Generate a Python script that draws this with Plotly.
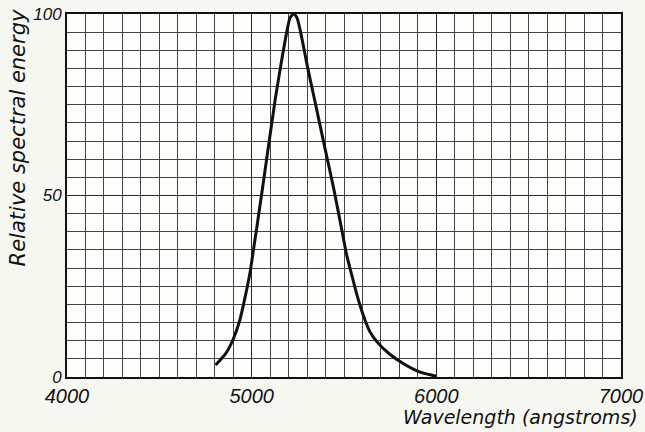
import plotly.graph_objects as go

wavelength = [4805, 4860, 4900, 4935, 4958, 4976, 4992, 5060, 5127, 5160, 5190, 5208, 5227,
              5245, 5265, 5303, 5341, 5400, 5446, 5490, 5515, 5540, 5565, 5590, 5615,
              5640, 5680, 5745, 5818, 5909, 6000]
energy = [3.3, 6.5, 10.4, 15.5, 20.5, 24.8, 29, 52.5, 76.3, 86.5, 95, 99, 100,
          99, 95, 85.3, 76.3, 62.3, 51.5, 40, 33.5, 28.5, 23.6, 19.2, 15.5,
          12.5, 9.6, 6.4, 3.8, 1.4, 0.2]

x_ticks = [4000, 5000, 6000, 7000]
y_ticks = [0, 50, 100]
x_title = "Wavelength (angstroms)"
y_title = "Relative spectral energy"

title_font = "DejaVu Sans"
tick_font = "Liberation Sans"
ink = "#111111"

fig = go.Figure()
fig.add_trace(go.Scatter(
    x=wavelength, y=energy, mode="lines",
    line=dict(color=ink, width=3, shape="spline", smoothing=0.6),
    hoverinfo="skip", showlegend=False,
))

fig.update_layout(
    template="none",
    width=645, height=432,
    margin=dict(l=67, r=24, t=14, b=55, autoexpand=False),
    paper_bgcolor="#f7f7f2",
    plot_bgcolor="#fdfdfb",
    font=dict(family=tick_font, size=19, color=ink, style="italic"),
    showlegend=False,
    annotations=[
        dict(text=y_title, xref="paper", yref="paper",
             x=-0.088, y=0.658, xanchor="center", yanchor="middle", textangle=-90,
             showarrow=False, font=dict(family=title_font, size=21, style="italic", color=ink)),
        dict(text=x_title, xref="paper", yref="paper",
             x=1.034, y=-0.11, xanchor="right", yanchor="middle",
             showarrow=False, font=dict(family=title_font, size=19, style="italic", color=ink)),
    ],
)

fig.update_xaxes(
    range=[4000, 7000], tickvals=x_ticks, ticktext=[str(v) for v in x_ticks],
    automargin=False,
    showgrid=True, gridcolor="#2a2a2a", gridwidth=1,
    minor=dict(dtick=100, showgrid=True, gridcolor="#444444", gridwidth=1, ticks=""),
    showline=True, linecolor=ink, linewidth=2, mirror=True,
    ticks="", zeroline=False, tickfont=dict(family=tick_font, size=20, style="italic", color=ink),
)
fig.update_yaxes(
    range=[0, 100], tickvals=y_ticks, ticktext=[str(v) for v in y_ticks],
    automargin=False,
    showgrid=True, gridcolor="#2a2a2a", gridwidth=1,
    minor=dict(dtick=5, showgrid=True, gridcolor="#444444", gridwidth=1, ticks=""),
    showline=True, linecolor=ink, linewidth=2, mirror=True,
    ticks="", zeroline=False, tickfont=dict(family=tick_font, size=17, style="italic", color=ink),
)

fig.write_html("out.html", config={"displayModeBar": False},
               post_script="document.body.style.margin='0';")
